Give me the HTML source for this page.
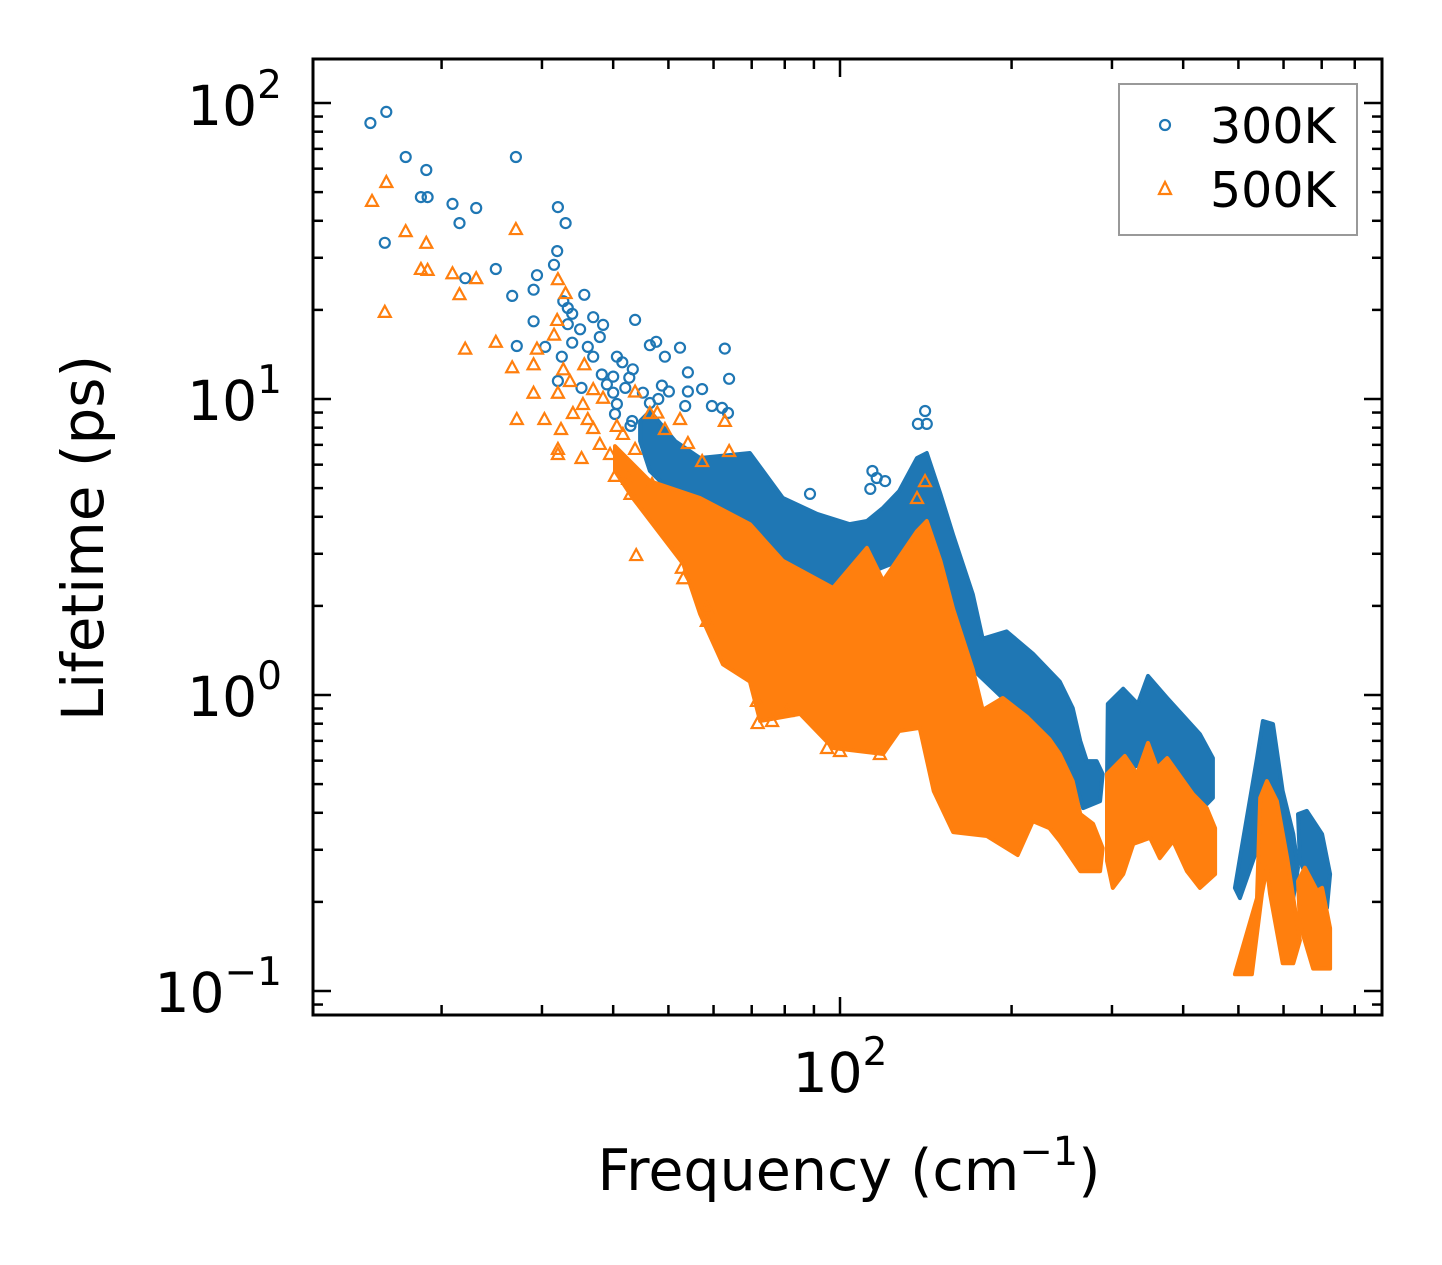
<!DOCTYPE html>
<html>
<head>
<meta charset="utf-8">
<style>
  html, body { margin: 0; padding: 0; background: #fff; }
  svg { display: block; font-family: "DejaVu Sans", "Liberation Sans", sans-serif; }
</style>
</head>
<body>
<svg id="chart" width="1442" height="1265" viewBox="0 0 1442 1265" xmlns="http://www.w3.org/2000/svg">
  <rect x="0" y="0" width="1442" height="1265" fill="#fff"/>
  <g id="dense"></g>
  <g id="marks"></g>
  <g id="ticks"></g>
  <rect x="313" y="59" width="1069" height="956" fill="none" stroke="#000" stroke-width="3"/>

  <g font-size="55" fill="#000" text-anchor="end">
    <text x="282" y="125">10<tspan dy="-27" font-size="39">2</tspan></text>
    <text x="282" y="420">10<tspan dy="-27" font-size="39">1</tspan></text>
    <text x="282" y="716">10<tspan dy="-27" font-size="39">0</tspan></text>
    <text x="282" y="1012">10<tspan dy="-27" font-size="39">−1</tspan></text>
  </g>
  <text x="840" y="1092" font-size="55" text-anchor="middle">10<tspan dy="-27" font-size="39">2</tspan></text>

  <text x="849" y="1190" font-size="57" text-anchor="middle">Frequency (cm<tspan dy="-25" font-size="40">−1</tspan><tspan dy="25">)</tspan></text>
  <text transform="translate(103,538) rotate(-90)" font-size="58" text-anchor="middle">Lifetime (ps)</text>

  <g>
    <rect x="1119" y="84" width="238" height="151" fill="#fff" stroke="#999" stroke-width="2"/>
    <g>
      <circle cx="1165" cy="125" r="5" fill="none" stroke="#1f77b4" stroke-width="2.2"/>
      <text x="1210" y="143" font-size="49">300K</text>
    </g>
    <g>
      <polygon points="1165,182 1171,194 1159,194" fill="none" stroke="#ff7f0e" stroke-width="2.2"/>
      <text x="1210" y="207" font-size="49">500K</text>
    </g>
  </g>
</svg>
<script>
// ---- data ----
const blueMainFreq = [44.6,46.4,51.4,56.8,69.5,79.4,91.2,104,111.5,119,127,136.5,142,150,158,171,178,196,218,243,256,264,271,282,289,286,267,256,233,193,171,146,127,85.1,56.8,46.4,44.6];
const blueMainTau = [8.43,9.1,7.21,6.32,6.57,4.63,4.09,3.78,3.87,4.29,4.89,6.32,6.57,4.78,3.47,2.19,1.55,1.64,1.38,1.11,0.904,0.699,0.598,0.598,0.541,0.438,0.415,0.545,0.710,0.977,1.22,2.84,2.84,2.08,3.87,5.71,7.21];
const blueC2Freq = [294,295,314,333,347,375,428,451,451,440,416,347,316];
const blueC2Tau = [0.512,0.933,1.05,0.933,1.16,0.977,0.738,0.612,0.449,0.428,0.438,0.598,0.554];
const blueC3Freq = [493,503,539,552,575,598,624,636,624,561,503];
const blueC3Tau = [0.223,0.281,0.612,0.817,0.798,0.474,0.339,0.261,0.206,0.375,0.206];
const blueC4Freq = [636,659,701,724,715,687,641];
const blueC4Tau = [0.396,0.406,0.339,0.248,0.191,0.201,0.275];

const orangeMainFreq = [40.3,46.4,56.8,69.5,79.4,97.2,111.5,119,136.5,142,150,158,171,178,193,213,233,243,256,264,278,289,286,264,243,233,218,205,181,158,146,138,127,119,97.2,85.1,72.4,69.5,62.3,56.8,53.1,43.3,40.3];
const orangeMainTau = [6.93,5.28,4.63,3.78,2.84,2.30,3.14,2.43,3.58,3.87,2.84,1.95,1.22,0.890,0.977,0.843,0.710,0.632,0.512,0.396,0.367,0.304,0.254,0.254,0.321,0.355,0.375,0.288,0.334,0.344,0.474,0.774,0.756,0.632,0.662,0.863,0.817,1.11,1.27,1.88,2.77,4.63,5.71];
const orangeC2Freq = [294,294,316,332,347,360,375,416,440,455,455,428,406,384,364,350,327,314,301];
const orangeC2Tau = [0.275,0.541,0.622,0.541,0.689,0.567,0.612,0.463,0.415,0.355,0.248,0.223,0.254,0.321,0.281,0.329,0.314,0.248,0.223];
const orangeC3Freq = [493,539,546,561,584,609,641,624,598,568,561,550,528];
const orangeC3Tau = [0.114,0.206,0.449,0.512,0.438,0.281,0.148,0.124,0.124,0.213,0.261,0.213,0.114];
const orangeC4Freq = [636,654,687,701,724,724,676,641];
const orangeC4Tau = [0.235,0.261,0.218,0.223,0.163,0.119,0.119,0.168];

const blueFreq = [15.0,16.0,17.3,18.8,18.4,18.9,27.0,15.9,20.9,23.0,21.5,32.0,33.0,31.9,31.5,22.0,24.9,29.4,29.0,26.6,35.6,29.0,27.1,43.7,62.8,63.9,52.4,46.4,47.6,49.3,54.1,57.3,54.1,32.7,33.3,33.9,33.3,36.9,38.4,35.0,33.9,36.1,37.9,30.4,32.5,36.9,40.6,41.5,38.2,40.0,43.3,42.7,32.0,35.2,39.0,40.0,42.0,40.6,40.3,43.2,42.9,45.1,46.4,48.7,50.1,48.0,53.5,59.6,62.1,63.6,141,137,142,114,116,120,113,88.6];
const blueTau = [85.6,93.3,65.7,59.4,48.1,48.1,65.7,33.7,45.6,44.2,39.3,44.5,39.3,31.6,28.4,25.6,27.5,26.2,23.4,22.3,22.5,18.3,15.1,18.5,14.8,11.7,14.9,15.2,15.6,13.9,12.3,10.8,10.6,21.4,20.3,19.4,17.9,18.9,17.8,17.2,15.5,15.0,16.2,15.0,13.9,13.9,13.9,13.3,12.1,11.9,12.6,11.8,11.5,10.9,11.2,10.5,10.9,9.62,8.90,8.43,8.11,10.5,9.69,11.1,10.6,10.0,9.47,9.47,9.33,8.97,9.11,8.24,8.24,5.71,5.41,5.28,4.97,4.78];
const orangeFreq = [16.0,15.1,17.3,18.8,18.4,18.9,20.9,23.0,21.5,15.9,27.0,24.9,22.0,32.0,33.0,31.9,31.5,29.4,29.0,26.6,29.0,27.1,30.3,32.0,35.6,32.4,32.0,32.0,35.2,33.6,32.7,36.9,38.4,35.4,34.0,36.1,36.9,40.6,41.6,37.9,39.5,40.3,42.9,43.7,43.7,43.9,52.4,54.1,57.3,62.8,63.9,46.4,47.8,49.3,46.8,42.5,52.8,53.1,58.4,58.4,71.5,71.7,76.0,80.7,94.9,100,117.5,141,136.5];
const orangeTau = [54.1,46.7,36.9,33.7,27.5,27.3,26.6,25.6,22.6,19.7,37.5,15.6,14.8,25.4,22.8,18.5,16.5,14.8,13.1,12.8,10.5,8.56,8.56,10.5,13.1,7.92,6.78,6.52,6.32,11.5,12.6,10.8,10.1,9.62,8.97,8.56,7.98,8.11,7.62,7.05,6.52,5.50,4.78,6.78,10.6,2.97,8.56,7.10,6.17,8.43,6.67,8.97,9.0,7.92,5.16,5.37,2.69,2.48,1.97,1.78,0.955,0.804,0.817,0.883,0.662,0.647,0.632,5.28,4.63];

const yTickValues = [0.1, 1, 10, 100];
const xMajorTicks = [100];

// ---- axes ----
const X0 = 840, XDEC = 570, Y0 = 103, YDEC = 296;
const L = 313, R = 1382, T = 59, B = 1015;
function xScale(f) { return X0 + XDEC * Math.log10(f / 100); }
function yScale(t) { return Y0 + YDEC * (2 - Math.log10(t)); }

const NS = 'http://www.w3.org/2000/svg';
const BLUE = '#1f77b4', ORANGE = '#ff7f0e';

function poly(parent, fr, ta, color, name) {
  const p = document.createElementNS(NS, 'polygon');
  p.setAttribute('points', fr.map((f, i) => xScale(f).toFixed(1) + ',' + yScale(ta[i]).toFixed(1)).join(' '));
  p.setAttribute('fill', color);
  p.setAttribute('stroke', color);
  p.setAttribute('stroke-width', '4');
  p.setAttribute('stroke-linejoin', 'round');
  
  
  parent.appendChild(p);
}
const dense = document.getElementById('dense');
const marks = document.getElementById('marks');

poly(dense, blueMainFreq, blueMainTau, BLUE, 'dense-300k-main');
poly(dense, blueC2Freq, blueC2Tau, BLUE, 'dense-300k-band2');
poly(dense, blueC3Freq, blueC3Tau, BLUE, 'dense-300k-band3');
poly(dense, blueC4Freq, blueC4Tau, BLUE, 'dense-300k-band4');

blueFreq.forEach((f, i) => {
  const c = document.createElementNS(NS, 'circle');
  c.setAttribute('cx', xScale(f).toFixed(1));
  c.setAttribute('cy', yScale(blueTau[i]).toFixed(1));
  c.setAttribute('r', '5');
  c.setAttribute('fill', 'none');
  c.setAttribute('stroke', BLUE);
  c.setAttribute('stroke-width', '2.2');
  
  
  dense.appendChild(c);
});

poly(marks, orangeMainFreq, orangeMainTau, ORANGE, 'dense-500k-main');
poly(marks, orangeC2Freq, orangeC2Tau, ORANGE, 'dense-500k-band2');
poly(marks, orangeC3Freq, orangeC3Tau, ORANGE, 'dense-500k-band3');
poly(marks, orangeC4Freq, orangeC4Tau, ORANGE, 'dense-500k-band4');

orangeFreq.forEach((f, i) => {
  const x = xScale(f), y = yScale(orangeTau[i]);
  const p = document.createElementNS(NS, 'polygon');
  p.setAttribute('points', `${x},${y-6} ${x+6},${y+5} ${x-6},${y+5}`);
  p.setAttribute('fill', 'none');
  p.setAttribute('stroke', ORANGE);
  p.setAttribute('stroke-width', '2.2');
  
  
  marks.appendChild(p);
});

// ---- ticks ----
const ticks = document.getElementById('ticks');
function line(x1, y1, x2, y2, w, name) {
  const l = document.createElementNS(NS, 'line');
  l.setAttribute('x1', x1); l.setAttribute('y1', y1);
  l.setAttribute('x2', x2); l.setAttribute('y2', y2);
  l.setAttribute('stroke', '#000');
  l.setAttribute('stroke-width', w);
  
  
  ticks.appendChild(l);
}
for (let e = -2; e <= 2; e++) {
  for (let m = 1; m <= 9; m++) {
    const v = m * Math.pow(10, e);
    const y = yScale(v);
    if (y < T || y > B) continue;
    const major = m === 1;
    const len = major ? 18 : 10;
    line(L, y, L + len, y, 2.5, major ? 'y-major-tick' : 'y-minor-tick');
    line(R, y, R - len, y, 2.5, major ? 'y-major-tick-right' : 'y-minor-tick-right');
  }
}
for (let e = 1; e <= 2; e++) {
  for (let m = 1; m <= 9; m++) {
    const v = m * Math.pow(10, e);
    const x = xScale(v);
    if (x < L || x > R) continue;
    const major = xMajorTicks.includes(v);
    const len = major ? 18 : 10;
    line(x, B, x, B - len, 2.5, major ? 'x-major-tick' : 'x-minor-tick');
    line(x, T, x, T + len, 2.5, major ? 'x-major-tick-top' : 'x-minor-tick-top');
  }
}
</script>
</body>
</html>
